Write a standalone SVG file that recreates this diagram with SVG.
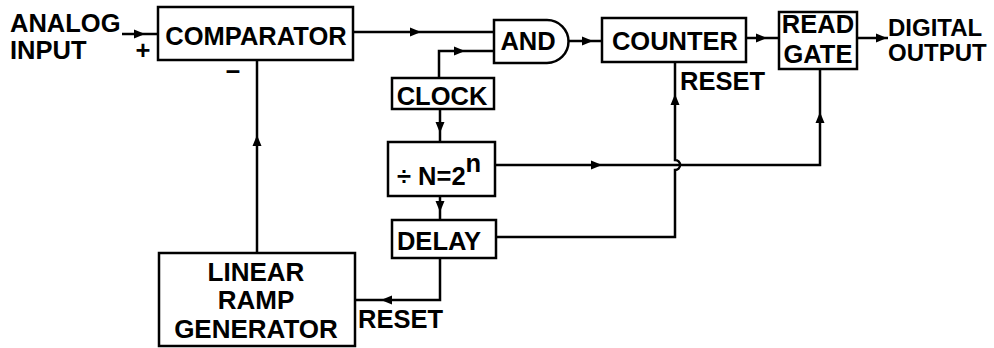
<svg xmlns="http://www.w3.org/2000/svg" xmlns:xlink="http://www.w3.org/1999/xlink" width="994" height="348" viewBox="0 0 994 348">
<style>
.box{fill:#fff;stroke:#000;stroke-width:2.5}
.ln{fill:none;stroke:#000;stroke-width:2.5}
.t{font-family:"Liberation Sans",Arial,sans-serif;font-weight:bold;font-size:25.5px;fill:#000}
.m{text-anchor:middle}
.s{font-size:24px}
.g{font-size:26px}
</style>
<defs>
<path id="ah" d="M0,0 L-11,-4.5 L-11,4.5 Z" fill="#000"/>
</defs>
<rect width="994" height="348" fill="#fff"/>
<g id="connectors">
<path class="ln" d="M122,34 H158"/>
<use xlink:href="#ah" transform="translate(145,34)"/>
<path class="ln" d="M353,32 H494"/>
<use xlink:href="#ah" transform="translate(421,32)"/>
<path class="ln" d="M439,78 V51 H494"/>
<use xlink:href="#ah" transform="translate(465,51)"/>
<path class="ln" d="M568,41 H602"/>
<use xlink:href="#ah" transform="translate(593,41)"/>
<path class="ln" d="M746,38 H779"/>
<use xlink:href="#ah" transform="translate(767,38)"/>
<path class="ln" d="M857,38 H888"/>
<use xlink:href="#ah" transform="translate(887,38)"/>
<path class="ln" d="M440,109 V142"/>
<use xlink:href="#ah" transform="translate(440,133) rotate(90)"/>
<path class="ln" d="M440,196 V220"/>
<use xlink:href="#ah" transform="translate(440,212) rotate(90)"/>
<path class="ln" d="M495,165 H820 V70"/>
<use xlink:href="#ah" transform="translate(602,165)"/>
<use xlink:href="#ah" transform="translate(820,112) rotate(-90)"/>
<path class="ln" d="M496,237 H675 V170 A5,5 0 0 0 675,160 V62"/>
<use xlink:href="#ah" transform="translate(675,94) rotate(-90)"/>
<path class="ln" d="M440,258 V300 H355"/>
<use xlink:href="#ah" transform="translate(381,300) rotate(180)"/>
<path class="ln" d="M257,253 V60"/>
<use xlink:href="#ah" transform="translate(257,135) rotate(-90)"/>
</g>
<g id="analog-input">
<text class="t" x="10" y="32">ANALOG</text>
<text class="t" x="10" y="59">INPUT</text>
<text class="t" x="143" y="59" text-anchor="middle">+</text>
</g>
<g id="comparator">
<rect class="box" x="158" y="7" width="195" height="53"/>
<text class="t m" x="256" y="45">COMPARATOR</text>
<text class="t" x="233" y="80" text-anchor="middle">−</text>
</g>
<g id="and">
<path class="box" d="M494,20 H547 A21.5,21.5 0 0 1 547,63 H494 Z"/>
<text class="t m" x="528" y="50">AND</text>
</g>
<g id="counter">
<rect class="box" x="602" y="18" width="144" height="44"/>
<text class="t m" x="675" y="50">COUNTER</text>
<text class="t" x="680" y="90">RESET</text>
</g>
<g id="read-gate">
<rect class="box" x="779" y="12" width="78" height="57"/>
<text class="t m" x="818" y="33">READ</text>
<text class="t m" x="818" y="63">GATE</text>
</g>
<g id="digital-output">
<text class="t s" x="888" y="36">DIGITAL</text>
<text class="t s" x="888" y="61">OUTPUT</text>
</g>
<g id="clock">
<rect class="box" x="392" y="78" width="102" height="31"/>
<text class="t m" x="442" y="105">CLOCK</text>
</g>
<g id="divider">
<rect class="box" x="388" y="142" width="107" height="54"/>
<text class="t" x="397" y="185">÷ N=2<tspan dy="-13">n</tspan></text>
</g>
<g id="delay">
<rect class="box" x="392" y="220" width="104" height="38"/>
<text class="t m" x="439" y="250">DELAY</text>
</g>
<g id="ramp">
<rect class="box" x="159" y="253" width="196" height="93"/>
<text class="t m g" x="256" y="281">LINEAR</text>
<text class="t m g" x="256" y="309">RAMP</text>
<text class="t m g" x="256" y="338">GENERATOR</text>
<text class="t" x="358" y="328">RESET</text>
</g>
</svg>
